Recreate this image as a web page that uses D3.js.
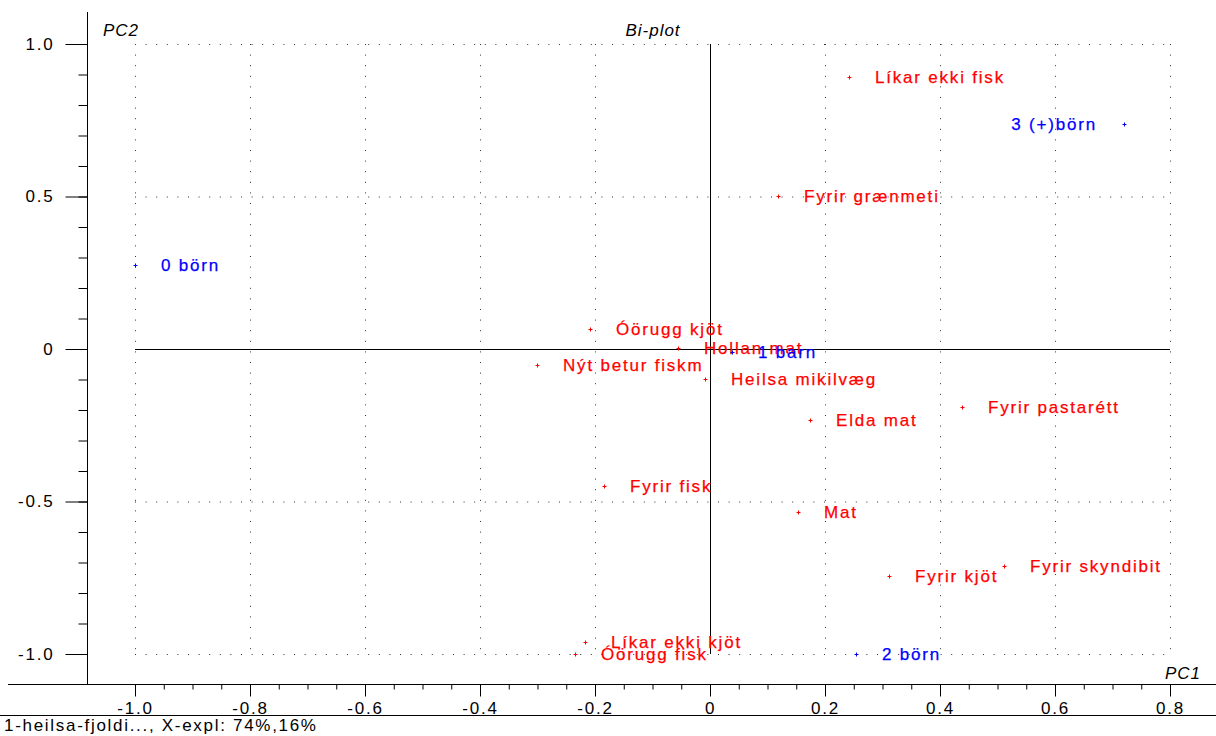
<!DOCTYPE html>
<html>
<head>
<meta charset="utf-8">
<script src="https://cdn.jsdelivr.net/npm/d3@7"></script>
<style>
  html, body { margin: 0; padding: 0; background: #fff; }
  svg { display: block; }
  text { font-family: Arial, "Liberation Sans", sans-serif; }
</style>
</head>
<body>
<svg id="chart" width="1216" height="736"></svg>
<script>
// ---- data ----
const varLabels = ["Líkar ekki fisk", "Fyrir grænmeti", "Óörugg kjöt", "Hollan mat", "Nýt betur fiskm",
  "Heilsa mikilvæg", "Elda mat", "Fyrir pastarétt", "Fyrir fisk", "Mat", "Fyrir skyndibit",
  "Fyrir kjöt", "Líkar ekki kjöt", "Óörugg fisk"];
const varPC1 = [0.242, 0.118, -0.209, -0.056, -0.301, -0.009, 0.174, 0.438, -0.184, 0.153, 0.511, 0.311, -0.217, -0.235];
const varPC2 = [0.892, 0.502, 0.066, 0.002, -0.052, -0.098, -0.233, -0.190, -0.449, -0.534, -0.711, -0.744, -0.961, -1.000];

const objLabels = ["0 börn", "1 barn", "2 börn", "3 (+)börn"];
const objPC1 = [-1.000, 0.038, 0.254, 0.720];
const objPC2 = [0.275, -0.010, -1.000, 0.738];

const xTicks = [-1.0, -0.8, -0.6, -0.4, -0.2, 0, 0.2, 0.4, 0.6, 0.8];
const xTickLabels = ["-1.0", "-0.8", "-0.6", "-0.4", "-0.2", "0", "0.2", "0.4", "0.6", "0.8"];
const yTicks = [1.0, 0.5, 0, -0.5, -1.0];
const yTickLabels = ["1.0", "0.5", "0", "-0.5", "-1.0"];
const yGrid = [1.0, 0.5, -0.5, -1.0];

const titleText = "Bi-plot";
const xAxisName = "PC1";
const yAxisName = "PC2";
const footerText = "1-heilsa-fjoldi..., X-expl: 74%,16%";

// ---- layout ----
const svg = d3.select("#chart");
const x = d3.scaleLinear().domain([-1, 0.8]).range([135, 1170]);
const y = d3.scaleLinear().domain([-1, 1]).range([654, 44]);
const axisY = 684;   // x-axis line position
const axisX = 87;    // y-axis line position
const FS = 17, LS = "1.8px";
const RED = "#ff0000", BLUE = "#0000ff";

// grid (dotted)
const grid = svg.append("g").attr("stroke", "#333").attr("stroke-width", 1).attr("stroke-dasharray", "1,9.6");
grid.selectAll("line.v").data(xTicks.filter(d => d !== 0)).join("line")
  .attr("x1", d => x(d) + 0.5).attr("x2", d => x(d) + 0.5)
  .attr("y1", y(1)).attr("y2", y(-1));
grid.selectAll("line.h").data(yGrid).join("line")
  .attr("x1", x(-1)).attr("x2", x(0.8))
  .attr("y1", d => y(d) + 0.5).attr("y2", d => y(d) + 0.5);

// zero lines (solid)
svg.append("line").attr("x1", x(-1)).attr("x2", x(0.8)).attr("y1", y(0) + 0.5).attr("y2", y(0) + 0.5)
  .attr("stroke", "#000");
svg.append("line").attr("x1", x(0) + 0.5).attr("x2", x(0) + 0.5).attr("y1", y(1)).attr("y2", y(-1))
  .attr("stroke", "#000");

// x axis
const xMinor = d3.range(-20, 17).map(i => i * 0.05).filter(v => v >= -1.0001 && v <= 0.8001);
const gxMinor = svg.append("g").attr("transform", `translate(0,${axisY + 0.5})`)
  .call(d3.axisBottom(x).tickValues(xMinor).tickSize(5).tickFormat(""));
gxMinor.select(".domain").remove();
const gx = svg.append("g").attr("transform", `translate(0,${axisY + 0.5})`)
  .call(d3.axisBottom(x).tickValues(xTicks).tickSize(12).tickPadding(5)
    .tickFormat((d, i) => xTickLabels[i]));
gx.select(".domain").remove();
gx.selectAll("text").attr("font-size", FS).attr("letter-spacing", LS).attr("fill", "#000")
  .attr("font-family", "Arial, 'Liberation Sans', sans-serif");
svg.append("line").attr("x1", 8).attr("x2", 1216).attr("y1", axisY + 0.5).attr("y2", axisY + 0.5).attr("stroke", "#000");
svg.append("line").attr("x1", 0).attr("x2", 1216).attr("y1", 715.5).attr("y2", 715.5).attr("stroke", "#000");

// y axis
const yMinor = d3.range(-10, 11).map(i => i * 0.1);
const gyMinor = svg.append("g").attr("transform", `translate(${axisX + 0.5},0)`)
  .call(d3.axisLeft(y).tickValues(yMinor).tickSize(9).tickFormat(""));
gyMinor.select(".domain").remove();
const gy = svg.append("g").attr("transform", `translate(${axisX + 0.5},0)`)
  .call(d3.axisLeft(y).tickValues(yTicks).tickSize(22).tickPadding(11)
    .tickFormat((d, i) => yTickLabels[i]));
gy.select(".domain").remove();
gy.selectAll("text").attr("font-size", FS).attr("letter-spacing", LS).attr("fill", "#000")
  .attr("font-family", "Arial, 'Liberation Sans', sans-serif");
svg.append("line").attr("x1", axisX + 0.5).attr("x2", axisX + 0.5).attr("y1", 12).attr("y2", axisY).attr("stroke", "#000");

// axis names and title
svg.append("text").attr("x", 103).attr("y", 36).attr("font-size", FS).attr("font-style", "italic")
  .attr("letter-spacing", "1px").text(yAxisName);
svg.append("text").attr("x", 653).attr("y", 36).attr("text-anchor", "middle").attr("font-size", FS)
  .attr("font-style", "italic").attr("letter-spacing", "1px").text(titleText);
svg.append("text").attr("x", 1201).attr("y", 679).attr("text-anchor", "end").attr("font-size", FS)
  .attr("font-style", "italic").attr("letter-spacing", "1px").text(xAxisName);
svg.append("text").attr("x", 4).attr("y", 731).attr("font-size", FS).attr("letter-spacing", "1.7px")
  .text(footerText);

// points
function drawSet(labels, px, py, color, cls) {
  const data = labels.map((l, i) => ({ label: l, pc1: px[i], pc2: py[i] }));
  const g = svg.append("g").attr("class", cls);
  const pts = g.selectAll("g.pt").data(data).join("g").attr("class", "pt")
    .attr("transform", d => `translate(${Math.round(x(d.pc1))},${Math.round(y(d.pc2))})`);
  pts.append("path").attr("d", "M-1.5,0.5H2.5M0.5,-1.5V2.5").attr("stroke", color).attr("stroke-width", 1);
  pts.append("text")
    .attr("x", d => x(d.pc1) > 1100 ? -27 : 26)
    .attr("text-anchor", d => x(d.pc1) > 1100 ? "end" : "start")
    .attr("dy", "0.36em")
    .attr("font-size", FS).attr("letter-spacing", LS).attr("fill", color)
    .attr("stroke", color).attr("stroke-width", 0.25)
    .text(d => d.label);
}
drawSet(varLabels, varPC1, varPC2, RED, "vars");
drawSet(objLabels, objPC1, objPC2, BLUE, "objs");
</script>
</body>
</html>
